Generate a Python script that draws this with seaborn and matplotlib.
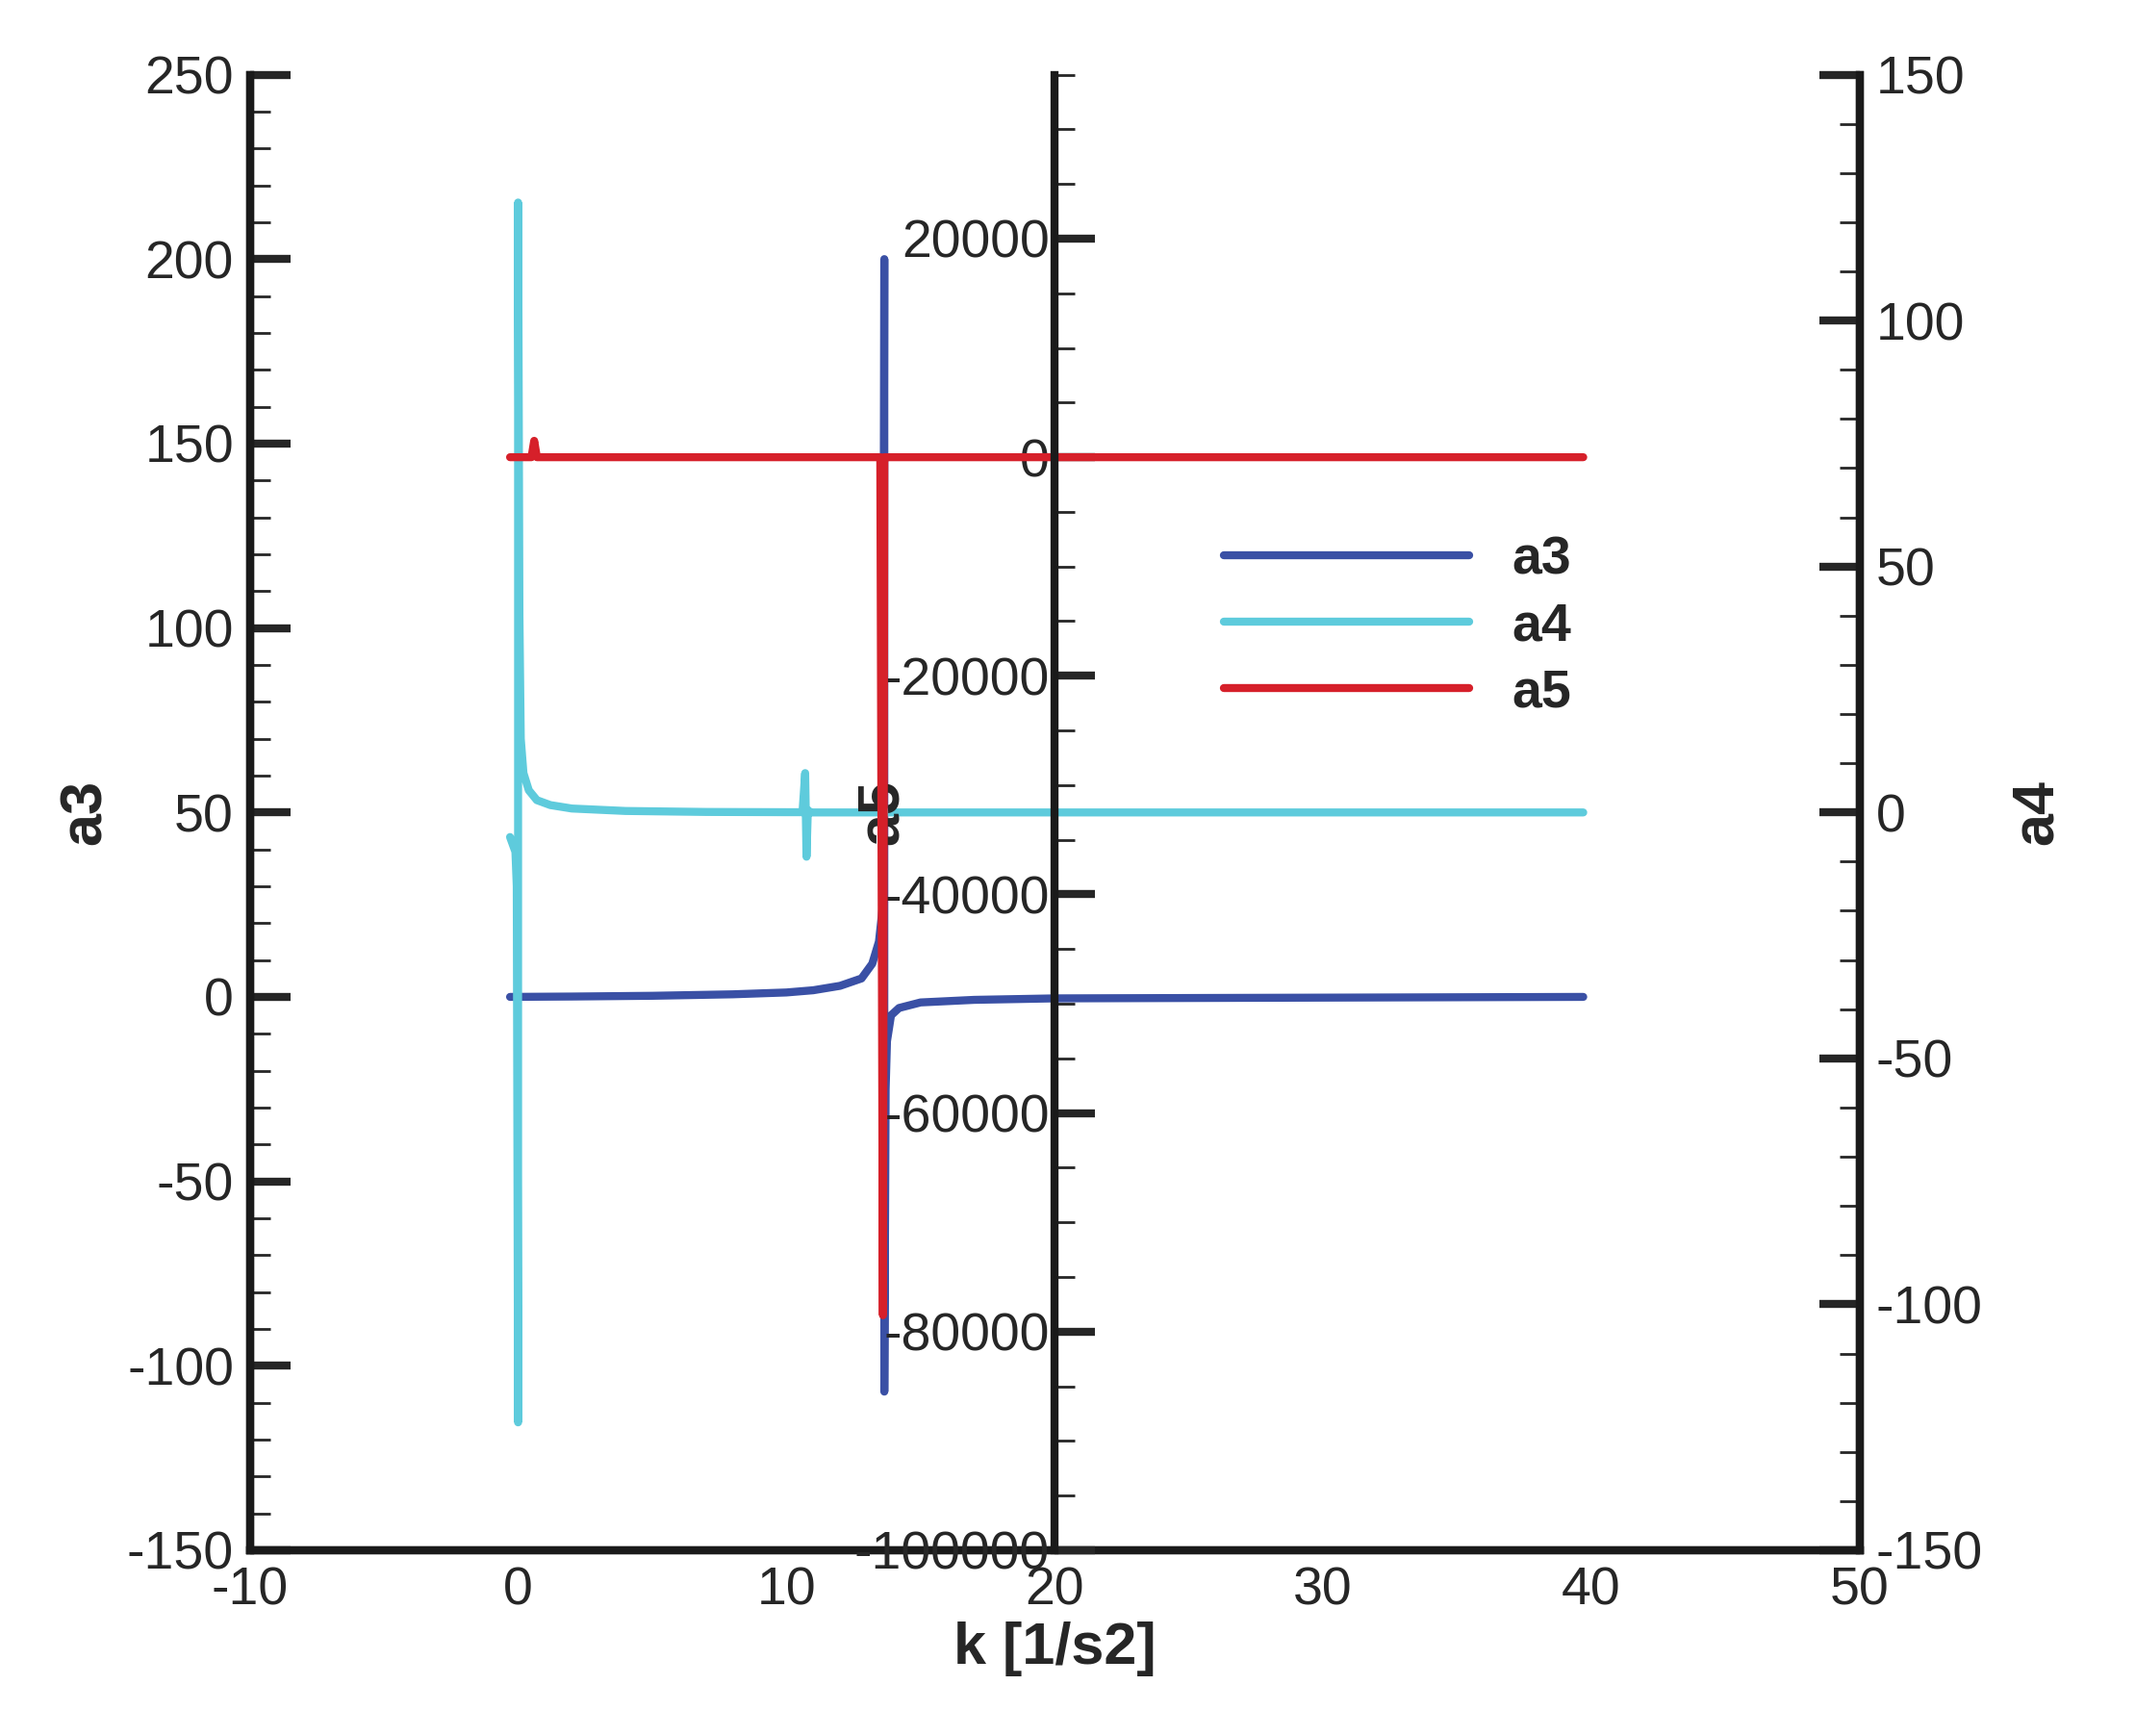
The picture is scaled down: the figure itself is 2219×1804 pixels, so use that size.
import matplotlib
matplotlib.use("Agg")
import matplotlib.pyplot as plt
import seaborn as sns
import numpy as np
from matplotlib.lines import Line2D
from matplotlib.ticker import MultipleLocator

sns.set_theme(style="white")
plt.rcParams['font.family'] = ['Liberation Sans', 'DejaVu Sans']
plt.rcParams['axes.unicode_minus'] = False

a3_k = [-0.3, 2, 5, 8, 10, 11, 12, 12.8, 13.2, 13.45, 13.6, 13.65, 13.65, 13.7, 13.75, 13.9, 14.2, 15, 17, 20, 30, 39.7]
a3_v = [0, 0.1, 0.3, 0.7, 1.2, 1.8, 3, 5, 9, 15, 25, 200, -107, -25, -12, -5, -3, -1.5, -0.8, -0.4, -0.2, 0]

a4_k = [-0.3, -0.1, -0.05, 0.0, 0.0, 0.05, 0.1, 0.2, 0.4, 0.7, 1.2, 2, 4, 7, 10, 10.6, 10.7, 10.75, 10.8, 10.9, 12, 20, 39.7]
a4_v = [-5, -8, -15, -124, 124, 40, 15, 8, 4.5, 2.5, 1.5, 0.8, 0.3, 0.1, 0.05, 0.05, 8, -9, 0.5, 0, 0, 0, 0]

a5_k = [-0.3, 0.5, 0.6, 0.7, 13.5, 13.6, 13.65, 13.7, 39.7]
a5_v = [0, 0, 1500, 0, 0, -78500, 0, 0, 0]

blue, cyan, red = '#3a50a5', '#5ecbdc', '#d6202a'
lw = 6

fig = plt.figure(figsize=(22.19, 18.04), dpi=100)
ax3 = fig.add_axes([0.117, 0.107, 0.754, 0.85])
ax4 = ax3.twinx()
ax5 = ax3.twinx()

sns.lineplot(x=a3_k, y=a3_v, ax=ax3, color=blue, lw=lw, sort=False, estimator=None)
sns.lineplot(x=a4_k, y=a4_v, ax=ax4, color=cyan, lw=lw, sort=False, estimator=None)
sns.lineplot(x=a5_k, y=a5_v, ax=ax5, color=red, lw=lw, sort=False, estimator=None)

ax3.set_xlim(-10, 50); ax3.set_ylim(-150, 250)
ax4.set_ylim(-150, 150); ax5.set_ylim(-100000, 35000)

fs = 40
for ax in (ax3, ax4, ax5):
    for s in ax.spines.values():
        s.set_linewidth(6); s.set_color('#1a1a1a')
    ax.spines['top'].set_visible(False)

ax3.xaxis.set_major_locator(MultipleLocator(10)); ax3.xaxis.set_minor_locator(MultipleLocator(2))
ax3.yaxis.set_major_locator(MultipleLocator(50)); ax3.yaxis.set_minor_locator(MultipleLocator(10))
ax4.yaxis.set_major_locator(MultipleLocator(50)); ax4.yaxis.set_minor_locator(MultipleLocator(10))
ax5.yaxis.set_major_locator(MultipleLocator(20000)); ax5.yaxis.set_minor_locator(MultipleLocator(5000))

ax3.tick_params(axis='x', which='both', direction='in', top=False, labelsize=fs, pad=12)
ax3.tick_params(axis='y', which='both', direction='in', right=False, labelsize=fs, pad=12)
ax3.tick_params(which='major', length=30, width=6); ax3.tick_params(which='minor', length=15, width=2)
ax4.tick_params(axis='y', which='both', direction='in', labelsize=fs, pad=12)
ax4.tick_params(which='major', length=30, width=6); ax4.tick_params(which='minor', length=15, width=2)

ax5.spines['right'].set_visible(False); ax5.spines['bottom'].set_visible(False)
ax5.spines['left'].set_visible(True)
ax5.spines['left'].set_position(('data', 20))
ax5.yaxis.set_ticks_position('left'); ax5.yaxis.set_label_position('left')
ax5.tick_params(axis='y', which='both', direction='in', labelsize=fs, pad=4)
ax5.tick_params(which='major', length=30, width=6); ax5.tick_params(which='minor', length=15, width=2)
ax5.set_xlim(-10, 50)

ax3.set_xlabel('k [1/s2]', fontsize=44, fontweight='bold', labelpad=4)
ax3.set_ylabel('a3', fontsize=44, fontweight='bold', labelpad=10)
ax4.set_ylabel('a4', fontsize=44, fontweight='bold', labelpad=20)
ax5.set_ylabel('a5', fontsize=44, fontweight='bold')
ax5.yaxis.set_label_coords(0.41, 0.5)

handles = [Line2D([], [], color=c, lw=lw) for c in (blue, cyan, red)]
leg = ax5.legend(handles, ['a3', 'a4', 'a5'], loc='upper left', bbox_to_anchor=(0.575, 0.72),
                 frameon=False, fontsize=40, handlelength=4.6, handletextpad=0.8, labelspacing=0.3)
for t in leg.get_texts():
    t.set_fontweight('bold')

fig.savefig('out.png', dpi=100)
